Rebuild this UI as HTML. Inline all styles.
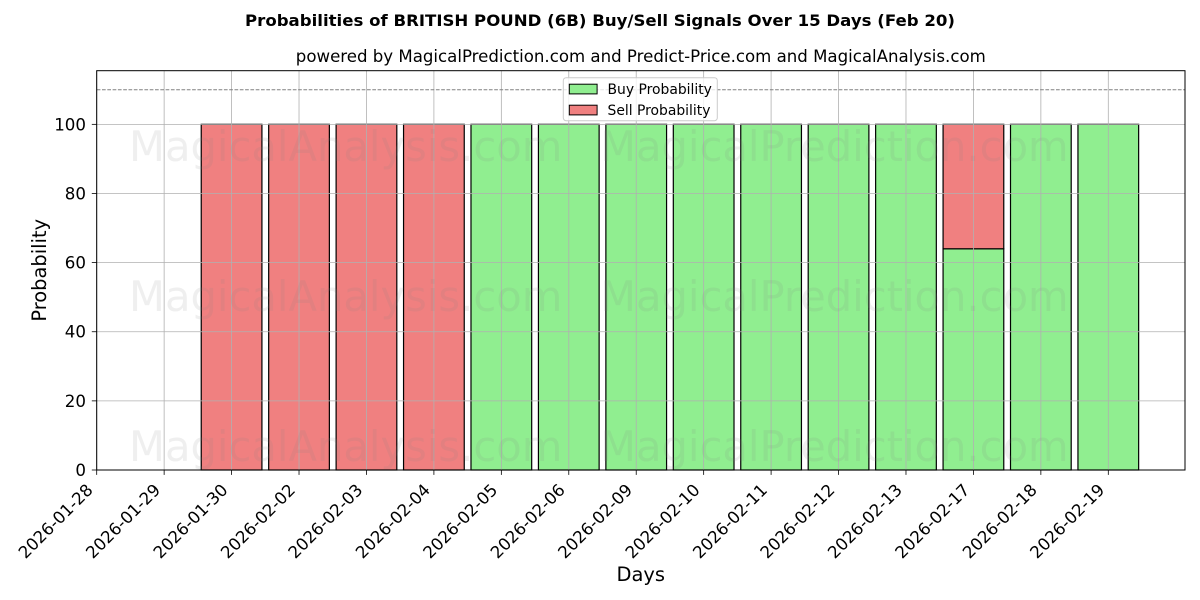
<!DOCTYPE html>
<html><head><meta charset="utf-8"><style>
html,body{margin:0;padding:0;background:#fff;}
svg{display:block;font-family:"DejaVu Sans","Liberation Sans",sans-serif;}
</style></head><body>
<svg width="1200" height="600" viewBox="0 0 1200 600" xmlns="http://www.w3.org/2000/svg">
<rect width="1200" height="600" fill="#fff"/>
<!-- titles -->
<text x="600" y="26" text-anchor="middle" font-size="16.2" font-weight="bold" textLength="710" lengthAdjust="spacingAndGlyphs">Probabilities of BRITISH POUND (6B) Buy/Sell Signals Over 15 Days (Feb 20)</text>
<text x="640.8" y="62" text-anchor="middle" font-size="16.4" textLength="690" lengthAdjust="spacingAndGlyphs">powered by MagicalPrediction.com and Predict-Price.com and MagicalAnalysis.com</text>

<!-- bars -->
<g stroke="#000" stroke-width="1.2">
<rect x="201.23" y="124.34" width="60.7" height="345.66" fill="#f08080"/>
<rect x="268.67" y="124.34" width="60.7" height="345.66" fill="#f08080"/>
<rect x="336.11" y="124.34" width="60.7" height="345.66" fill="#f08080"/>
<rect x="403.55" y="124.34" width="60.7" height="345.66" fill="#f08080"/>
<rect x="470.99" y="124.34" width="60.7" height="345.66" fill="#90ee90"/>
<rect x="538.43" y="124.34" width="60.7" height="345.66" fill="#90ee90"/>
<rect x="605.87" y="124.34" width="60.7" height="345.66" fill="#90ee90"/>
<rect x="673.31" y="124.34" width="60.7" height="345.66" fill="#90ee90"/>
<rect x="740.75" y="124.34" width="60.7" height="345.66" fill="#90ee90"/>
<rect x="808.19" y="124.34" width="60.7" height="345.66" fill="#90ee90"/>
<rect x="875.63" y="124.34" width="60.7" height="345.66" fill="#90ee90"/>
<rect x="943.07" y="248.78" width="60.7" height="221.22" fill="#90ee90"/>
<rect x="943.07" y="124.34" width="60.7" height="124.44" fill="#f08080"/>
<rect x="1010.51" y="124.34" width="60.7" height="345.66" fill="#90ee90"/>
<rect x="1077.95" y="124.34" width="60.7" height="345.66" fill="#90ee90"/>
</g>

<!-- grid -->
<g stroke="#b0b0b0" stroke-width="0.8">
<line x1="96.7" y1="470" x2="1185" y2="470"/>
<line x1="96.7" y1="400.87" x2="1185" y2="400.87"/>
<line x1="96.7" y1="331.74" x2="1185" y2="331.74"/>
<line x1="96.7" y1="262.60" x2="1185" y2="262.60"/>
<line x1="96.7" y1="193.47" x2="1185" y2="193.47"/>
<line x1="96.7" y1="124.34" x2="1185" y2="124.34"/>
<line x1="96.70" y1="70.7" x2="96.70" y2="470"/>
<line x1="164.14" y1="70.7" x2="164.14" y2="470"/>
<line x1="231.58" y1="70.7" x2="231.58" y2="470"/>
<line x1="299.02" y1="70.7" x2="299.02" y2="470"/>
<line x1="366.46" y1="70.7" x2="366.46" y2="470"/>
<line x1="433.90" y1="70.7" x2="433.90" y2="470"/>
<line x1="501.34" y1="70.7" x2="501.34" y2="470"/>
<line x1="568.78" y1="70.7" x2="568.78" y2="470"/>
<line x1="636.22" y1="70.7" x2="636.22" y2="470"/>
<line x1="703.66" y1="70.7" x2="703.66" y2="470"/>
<line x1="771.10" y1="70.7" x2="771.10" y2="470"/>
<line x1="838.54" y1="70.7" x2="838.54" y2="470"/>
<line x1="905.98" y1="70.7" x2="905.98" y2="470"/>
<line x1="973.42" y1="70.7" x2="973.42" y2="470"/>
<line x1="1040.86" y1="70.7" x2="1040.86" y2="470"/>
<line x1="1108.30" y1="70.7" x2="1108.30" y2="470"/>
</g>

<!-- dashed line at 110 -->
<line x1="96.7" y1="89.77" x2="1185" y2="89.77" stroke="#808080" stroke-width="1" stroke-dasharray="3.7,1.6"/>

<!-- watermarks -->
<g font-size="41.67" fill="#808080" fill-opacity="0.13">
<text x="129" y="161">MagicalAnalysis.com</text>
<text x="600" y="161">MagicalPrediction.com</text>
<text x="129" y="311">MagicalAnalysis.com</text>
<text x="600" y="311">MagicalPrediction.com</text>
<text x="129" y="461">MagicalAnalysis.com</text>
<text x="600" y="461">MagicalPrediction.com</text>
</g>

<!-- spines -->
<rect x="96.7" y="70.7" width="1088.3" height="399.3" fill="none" stroke="#000" stroke-width="1"/>

<!-- y ticks -->
<g stroke="#000" stroke-width="0.8">
<line x1="91.8" y1="470" x2="96.7" y2="470"/>
<line x1="91.8" y1="400.87" x2="96.7" y2="400.87"/>
<line x1="91.8" y1="331.74" x2="96.7" y2="331.74"/>
<line x1="91.8" y1="262.60" x2="96.7" y2="262.60"/>
<line x1="91.8" y1="193.47" x2="96.7" y2="193.47"/>
<line x1="91.8" y1="124.34" x2="96.7" y2="124.34"/>
</g>
<g font-size="16.67" text-anchor="end" fill="#000">
<text x="86" y="476">0</text>
<text x="86" y="406.9">20</text>
<text x="86" y="337.7">40</text>
<text x="86" y="268.6">60</text>
<text x="86" y="199.5">80</text>
<text x="86" y="130.3">100</text>
</g>

<!-- x ticks -->
<g stroke="#000" stroke-width="0.8">
<line x1="96.70" y1="470" x2="96.70" y2="474.9"/>
<line x1="164.14" y1="470" x2="164.14" y2="474.9"/>
<line x1="231.58" y1="470" x2="231.58" y2="474.9"/>
<line x1="299.02" y1="470" x2="299.02" y2="474.9"/>
<line x1="366.46" y1="470" x2="366.46" y2="474.9"/>
<line x1="433.90" y1="470" x2="433.90" y2="474.9"/>
<line x1="501.34" y1="470" x2="501.34" y2="474.9"/>
<line x1="568.78" y1="470" x2="568.78" y2="474.9"/>
<line x1="636.22" y1="470" x2="636.22" y2="474.9"/>
<line x1="703.66" y1="470" x2="703.66" y2="474.9"/>
<line x1="771.10" y1="470" x2="771.10" y2="474.9"/>
<line x1="838.54" y1="470" x2="838.54" y2="474.9"/>
<line x1="905.98" y1="470" x2="905.98" y2="474.9"/>
<line x1="973.42" y1="470" x2="973.42" y2="474.9"/>
<line x1="1040.86" y1="470" x2="1040.86" y2="474.9"/>
<line x1="1108.30" y1="470" x2="1108.30" y2="474.9"/>
</g>
<g font-size="16.67" text-anchor="end" fill="#000">
<text transform="translate(93.9,491) rotate(-45)">2026-01-28</text>
<text transform="translate(161.34,491) rotate(-45)">2026-01-29</text>
<text transform="translate(228.78,491) rotate(-45)">2026-01-30</text>
<text transform="translate(296.22,491) rotate(-45)">2026-02-02</text>
<text transform="translate(363.66,491) rotate(-45)">2026-02-03</text>
<text transform="translate(431.10,491) rotate(-45)">2026-02-04</text>
<text transform="translate(498.54,491) rotate(-45)">2026-02-05</text>
<text transform="translate(565.98,491) rotate(-45)">2026-02-06</text>
<text transform="translate(633.42,491) rotate(-45)">2026-02-09</text>
<text transform="translate(700.86,491) rotate(-45)">2026-02-10</text>
<text transform="translate(768.30,491) rotate(-45)">2026-02-11</text>
<text transform="translate(835.74,491) rotate(-45)">2026-02-12</text>
<text transform="translate(903.18,491) rotate(-45)">2026-02-13</text>
<text transform="translate(970.62,491) rotate(-45)">2026-02-17</text>
<text transform="translate(1038.06,491) rotate(-45)">2026-02-18</text>
<text transform="translate(1105.50,491) rotate(-45)">2026-02-19</text>
</g>

<!-- axis labels -->
<text x="640.8" y="581" text-anchor="middle" font-size="19.44">Days</text>
<text transform="translate(46,270.3) rotate(-90)" text-anchor="middle" font-size="19.44">Probability</text>

<!-- legend -->
<rect x="563.3" y="77.7" width="154" height="43" rx="2.8" ry="2.8" fill="#fff" fill-opacity="0.8" stroke="#cccccc" stroke-width="1"/>
<rect x="569.3" y="84.2" width="27.8" height="9.7" fill="#90ee90" stroke="#000" stroke-width="1"/>
<rect x="569.3" y="105.2" width="27.8" height="9.7" fill="#f08080" stroke="#000" stroke-width="1"/>
<g font-size="13.9" fill="#000">
<text x="607.5" y="94">Buy Probability</text>
<text x="607.5" y="115">Sell Probability</text>
</g>
</svg>
</body></html>
